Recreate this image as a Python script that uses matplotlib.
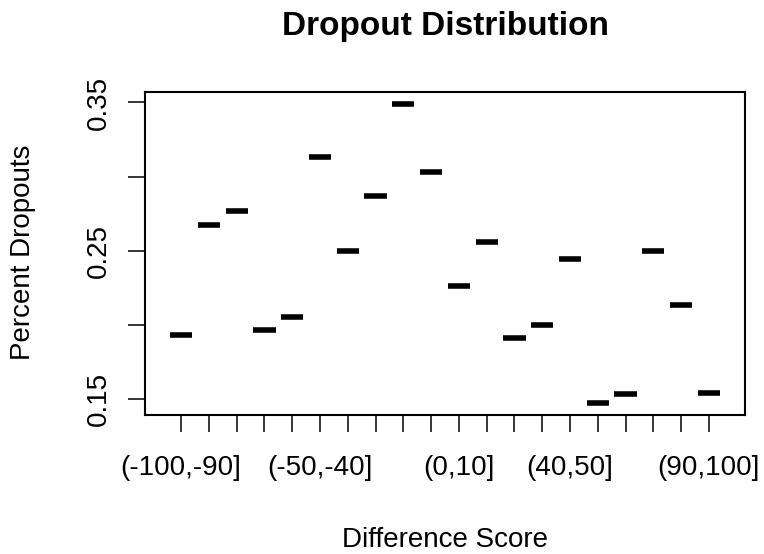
import matplotlib
matplotlib.use('Agg')
import matplotlib.pyplot as plt
import numpy as np

# dropout share per difference-score bin
bins = ['(-100,-90]', '(-90,-80]', '(-80,-70]', '(-70,-60]', '(-60,-50]',
        '(-50,-40]', '(-40,-30]', '(-30,-20]', '(-20,-10]', '(-10,0]',
        '(0,10]', '(10,20]', '(20,30]', '(30,40]', '(40,50]',
        '(50,60]', '(60,70]', '(70,80]', '(80,90]', '(90,100]']
dropouts = [0.193, 0.267, 0.277, 0.196, 0.205, 0.313, 0.250, 0.287, 0.349, 0.303,
            0.226, 0.256, 0.191, 0.200, 0.244, 0.147, 0.153, 0.250, 0.213, 0.154]
# only these names fit under the axis
shown = ['(-100,-90]', '(-50,-40]', '(0,10]', '(40,50]', '(90,100]']

plt.rcParams['font.family'] = ['Liberation Sans', 'DejaVu Sans']

fig = plt.figure(figsize=(7.64, 5.54), dpi=100)
ax = fig.add_axes([145/764, 1 - 415/554, 600/764, 323/554])

x = np.arange(1, len(bins) + 1)
ax.hlines(dropouts, x - 0.4, x + 0.4, colors='black', linewidth=4.0, capstyle='butt')

ax.set_xlim(-0.3, 21.3)
lo, hi = min(dropouts), max(dropouts)
pad = (hi - lo) * 0.04
ax.set_ylim(lo - pad, hi + pad)

ax.set_xticks(x)
ax.set_xticklabels([b if b in shown else '' for b in bins], fontsize=20)
yt = [0.15, 0.20, 0.25, 0.30, 0.35]
ax.set_yticks(yt)
ax.set_yticklabels(['0.15', '', '0.25', '', '0.35'], fontsize=20,
                   rotation=90, va='center')
ax.tick_params(axis='x', length=12, width=1.1, pad=17)
ax.tick_params(axis='y', length=12, width=1.1, pad=12)
for s in ax.spines.values():
    s.set_linewidth(1.5)

fig.text(445/764, 1 - 35/554, 'Dropout Distribution', fontsize=24,
         fontweight='bold', ha='center', va='baseline')
fig.text(445/764, 1 - 547/554, 'Difference Score', fontsize=20,
         ha='center', va='baseline')
fig.text(23/764, 1 - 252/554, 'Percent Dropouts', fontsize=20,
         rotation=90, ha='center', va='center')

fig.savefig('out.png', dpi=100)
